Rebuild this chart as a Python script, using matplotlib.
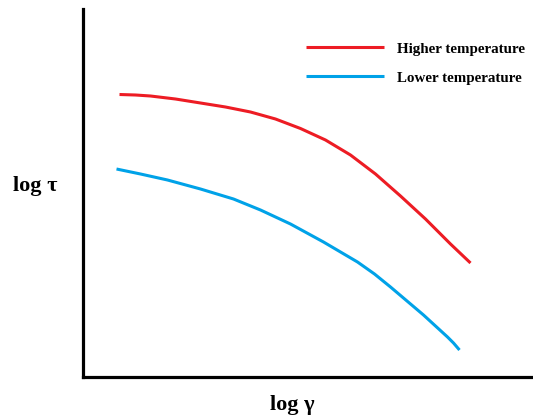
import matplotlib
matplotlib.use("Agg")
import matplotlib.pyplot as plt

# curves (arbitrary log units: x = log shear rate, y = log shear stress)
high_x = [37, 53, 68, 93, 118, 143, 168, 193, 218, 243, 268, 293, 318, 343, 368, 388]
high_y = [282.5, 282, 281, 278, 274, 270, 265, 258, 248.5, 237, 222, 203, 181, 158, 133, 114]
low_x = [34, 58, 85, 118, 151, 178, 208, 241, 258, 275, 292, 308, 341, 365, 371, 377]
low_y = [208, 203, 197, 188, 178, 167, 153, 135, 125, 115, 103, 90, 62, 40, 34, 27]

labels = ["Higher temperature", "Lower temperature"]
colors = ["#ED1C24", "#00A2E8"]

W, H = 533, 419
fig = plt.figure(figsize=(W / 100, H / 100), dpi=100)
ax = fig.add_axes([82.5 / W, (H - 377) / H, (W - 82.5) / W, (377 - 9) / H])

ax.plot(high_x, high_y, color=colors[0], linewidth=2.2, label=labels[0],
        solid_capstyle="butt", solid_joinstyle="round")
ax.plot(low_x, low_y, color=colors[1], linewidth=2.2, label=labels[1],
        solid_capstyle="butt", solid_joinstyle="round")

ax.set_xlim(0, W - 82.5)
ax.set_ylim(0, 368)
ax.set_xticks([])
ax.set_yticks([])
for s in ["top", "right"]:
    ax.spines[s].set_visible(False)
for s in ["left", "bottom"]:
    ax.spines[s].set_linewidth(2.3)
    ax.spines[s].set_color("black")

font = {"family": "Liberation Serif", "weight": "bold"}
fig.text(13 / W, 1 - 186 / H, "log τ", fontsize=16, va="center", ha="left", **font)
fig.text(292 / W, 1 - 405 / H, "log γ", fontsize=16, va="center", ha="center", **font)

leg = ax.legend(loc="upper left", bbox_to_anchor=((307 - 82.5) / (W - 82.5) - 0.016, 1 - 27 / 368),
                frameon=False, handlelength=5.2, handletextpad=0.9, labelspacing=1.05,
                borderaxespad=0, prop={"family": "Liberation Serif", "weight": "bold", "size": 10.8})

fig.savefig("out.png", dpi=100)
